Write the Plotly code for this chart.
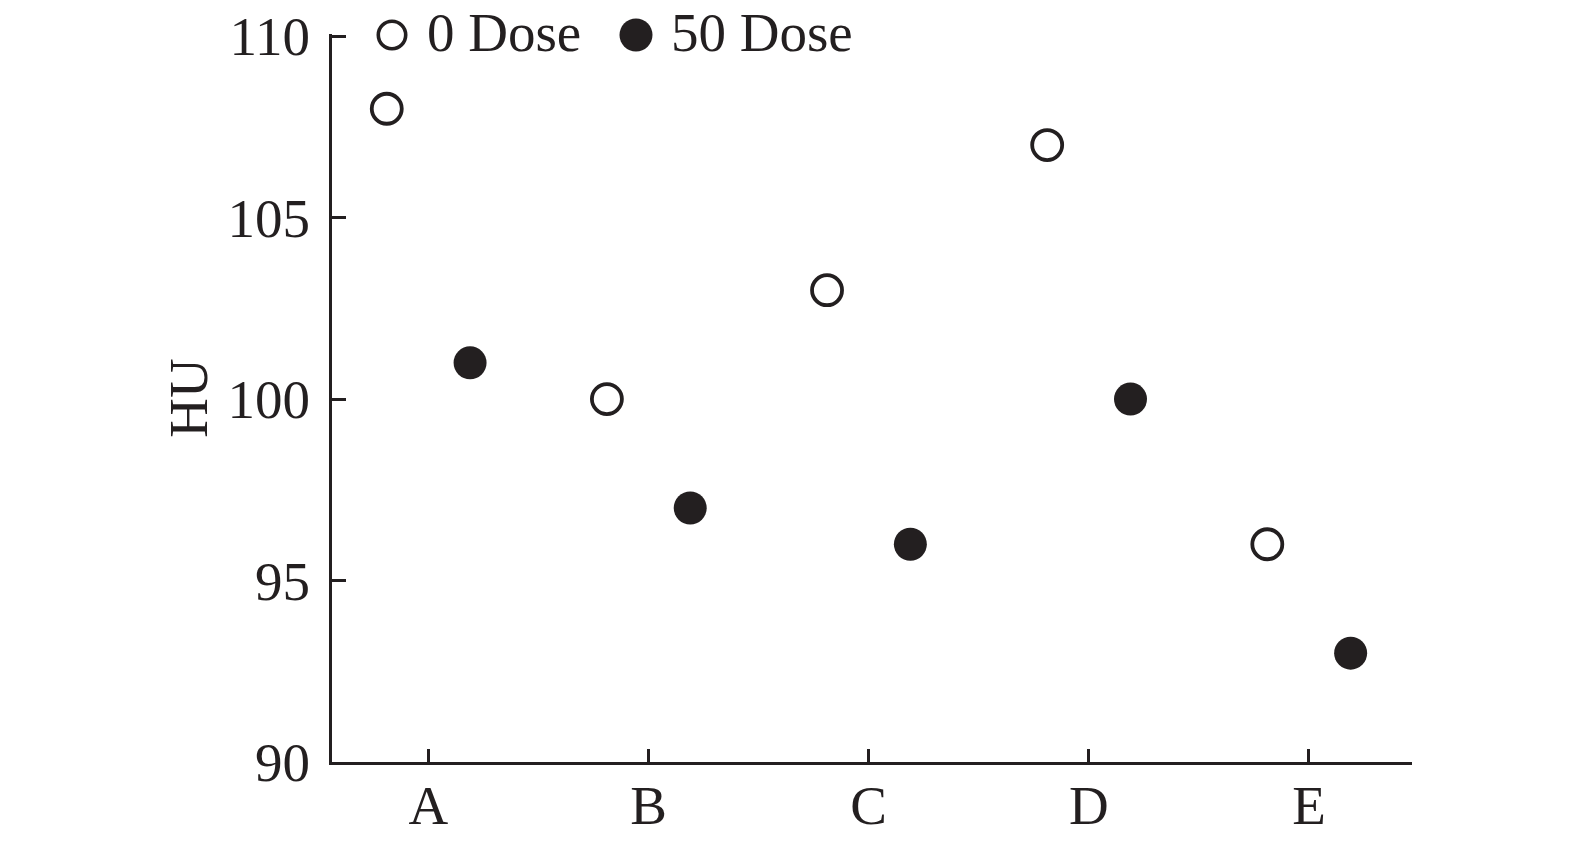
import plotly.graph_objects as go

categories = ["A", "B", "C", "D", "E"]
dose0 = [108, 100, 103, 107, 96]
dose50 = [101, 97, 96, 100, 93]
y_ticks = [90, 95, 100, 105, 110]
series_names = ["0 Dose", "50 Dose"]

ink = "#231f20"
font_family = "Liberation Serif, Times New Roman, serif"
fs = 55

fig = go.Figure()
fig.add_trace(go.Scatter(
    x=categories, y=dose0, mode="markers", name=series_names[0],
    marker=dict(symbol="circle-open", size=30, color=ink, line=dict(width=3.8, color=ink)),
    cliponaxis=False,
))
fig.add_trace(go.Scatter(
    x=categories, y=dose50, mode="markers", name=series_names[1],
    marker=dict(symbol="circle", size=33, color=ink, line=dict(width=0)),
    cliponaxis=False,
))

# Legend drawn manually (plotly caps legend symbol size)
r_open = 13.7
fig.add_shape(type="circle", xref="paper", yref="paper",
              xsizemode="pixel", ysizemode="pixel", xanchor=0, yanchor=1,
              x0=60 - r_open, x1=60 + r_open, y0=-1 - r_open, y1=-1 + r_open,
              line=dict(color=ink, width=3.6), fillcolor="rgba(0,0,0,0)")
r_fill = 16.5
fig.add_shape(type="circle", xref="paper", yref="paper",
              xsizemode="pixel", ysizemode="pixel", xanchor=0, yanchor=1,
              x0=304 - r_fill, x1=304 + r_fill, y0=-1 - r_fill, y1=-1 + r_fill,
              line=dict(color=ink, width=0), fillcolor=ink)
fig.add_annotation(text=series_names[0], xref="paper", yref="paper", x=0, y=1,
                   xanchor="left", yanchor="middle", xshift=93, yshift=2, showarrow=False,
                   font=dict(size=fs, color=ink, family=font_family))
fig.add_annotation(text=series_names[1], xref="paper", yref="paper", x=0, y=1,
                   xanchor="left", yanchor="middle", xshift=337, yshift=2, showarrow=False,
                   font=dict(size=fs, color=ink, family=font_family))

fig.update_layout(
    width=1575, height=846,
    paper_bgcolor="white", plot_bgcolor="white",
    margin=dict(l=324, r=171, t=26, b=92, autoexpand=False),
    font=dict(family=font_family, size=fs, color=ink),
    scattermode="group", scattergap=0.243,
    showlegend=False,
    xaxis=dict(
        type="category", range=[-0.438, 4.468],
        showline=True, linecolor=ink, linewidth=3,
        ticks="inside", ticklen=13, tickwidth=2.5, tickcolor=ink,
        showgrid=False, zeroline=False, ticklabelstandoff=-7,
        ticklabeloverflow="allow",
        tickfont=dict(size=fs, color=ink, family=font_family),
    ),
    yaxis=dict(
        range=[90, 110.06], tickvals=y_ticks,
        showline=True, linecolor=ink, linewidth=3,
        ticks="inside", ticklen=14, tickwidth=2.5, tickcolor=ink,
        showgrid=False, zeroline=False, ticklabelstandoff=8,
        ticklabeloverflow="allow",
        tickfont=dict(size=fs, color=ink, family=font_family),
        title=dict(text="HU", standoff=3, font=dict(size=fs, color=ink, family=font_family)),
    ),
)

fig.write_html("out.html")
